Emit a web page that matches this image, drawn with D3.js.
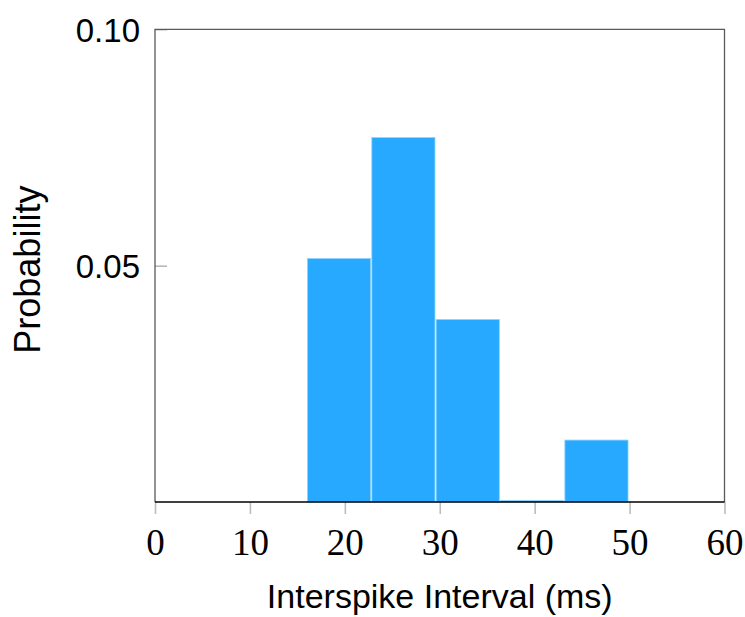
<!DOCTYPE html>
<html>
<head>
<meta charset="utf-8">
<script src="https://cdn.jsdelivr.net/npm/d3@7"></script>
<style>
  html, body { margin: 0; padding: 0; background: #fff; }
  svg { display: block; }
</style>
</head>
<body>
<svg id="chart" width="745" height="617"></svg>
<script>
// Data
const binEdges = [16.0, 22.78, 29.56, 36.34, 43.12, 49.9];
const probabilities = [0.0515, 0.0771, 0.0386, 0.0003, 0.0131];
const xTicks = [0, 10, 20, 30, 40, 50, 60];
const yTicks = [0.05, 0.10];
const xLabel = "Interspike Interval (ms)";
const yLabel = "Probability";

(function () {
const bins = probabilities.map((p, i) => ({ x0: binEdges[i], x1: binEdges[i + 1], p }));

const svg = d3.select("#chart");
const pl = 155, pr = 724.5, pt = 29.3, pb = 502;

const x = d3.scaleLinear().domain([0, 60]).range([pl, pr]);
const y = d3.scaleLinear().domain([0, 0.10]).range([pb, pt]);

// Bars
svg.append("g").selectAll("rect").data(bins).join("rect")
  .attr("x", d => x(d.x0) + 0.6)
  .attr("width", d => x(d.x1) - x(d.x0) - 1.2)
  .attr("y", d => y(d.p))
  .attr("height", d => pb - y(d.p))
  .attr("fill", "#27a9ff")
  .attr("stroke", "#8fd2ff")
  .attr("stroke-width", 0.8);

// X axis (ticks outside, light gray)
const xAxis = d3.axisBottom(x).tickValues(xTicks).tickSize(12).tickFormat(d3.format("d"));
const gx = svg.append("g").attr("transform", `translate(0,${pb})`).call(xAxis);
gx.select(".domain").remove();
gx.selectAll(".tick line").attr("stroke", "#bdbdbd").attr("stroke-width", 1.6);
gx.selectAll(".tick text")
  .attr("font-family", "'Liberation Serif','DejaVu Serif',serif")
  .attr("font-size", 37)
  .attr("fill", "#000")
  .attr("y", 0).attr("dy", 0)
  .attr("transform", "translate(0,53)");

// Y axis (ticks inside)
const yAxis = d3.axisLeft(y).tickValues(yTicks).tickSize(-12).tickPadding(15).tickFormat(d3.format(".2f"));
const gy = svg.append("g").attr("transform", `translate(${pl},0)`).call(yAxis);
gy.select(".domain").remove();
gy.selectAll(".tick line").attr("stroke", "#a0a0a0").attr("stroke-width", 1.2);
gy.selectAll(".tick text")
  .attr("font-family", "'Liberation Sans','DejaVu Sans',sans-serif")
  .attr("font-size", 33)
  .attr("fill", "#000")
  .attr("dy", "0.36em");

// Frame
svg.append("path")
  .attr("d", `M${pl},${pb}V${pt}H${pr}V${pb}`)
  .attr("fill", "none").attr("stroke", "#5a5a5a").attr("stroke-width", 1.3);
svg.append("line")
  .attr("x1", pl).attr("x2", pr).attr("y1", pb).attr("y2", pb)
  .attr("stroke", "#000").attr("stroke-width", 1.3);

// Axis labels
svg.append("text")
  .attr("x", (pl + pr) / 2).attr("y", 608)
  .attr("text-anchor", "middle")
  .attr("font-family", "'Liberation Sans','DejaVu Sans',sans-serif")
  .attr("font-size", 34)
  .attr("fill", "#000")
  .text(xLabel);

svg.append("text")
  .attr("transform", `translate(40,${(pt + pb) / 2 + 4}) rotate(-90)`)
  .attr("text-anchor", "middle")
  .attr("font-family", "'Liberation Sans','DejaVu Sans',sans-serif")
  .attr("font-size", 36)
  .attr("fill", "#000")
  .text(yLabel);
})();
</script>
</body>
</html>
